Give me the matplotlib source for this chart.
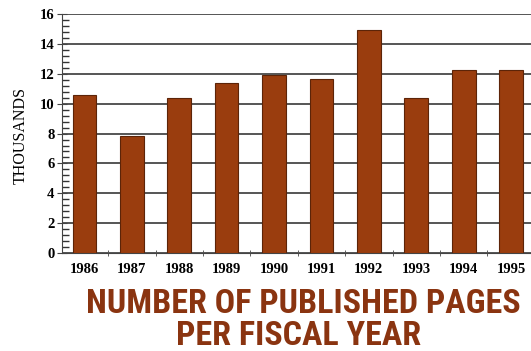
import numpy as np
import matplotlib.pyplot as plt
from matplotlib.ticker import MultipleLocator

# dati: pagine pubblicate per anno fiscale (migliaia)
years = ["1986", "1987", "1988", "1989", "1990", "1991", "1992", "1993", "1994", "1995"]
pages = [10.6, 7.85, 10.4, 11.4, 11.95, 11.65, 14.95, 10.4, 12.25, 12.25]

brown = "#9a3d0e"
title_font = ["Roboto Condensed", "Anton", "DejaVu Sans"]

fig = plt.figure(figsize=(5.31, 3.51), dpi=100)
ax = fig.add_axes([0.117, 0.279, 0.883, 0.681])

x = np.arange(len(years))
ax.bar(x, pages, width=0.5, color=brown, edgecolor="#5c2408", linewidth=0.8, zorder=3)

# griglia orizzontale
ax.set_ylim(0, 16)
ax.set_xlim(-0.47, 9.42)
ax.minorticks_on()
ax.yaxis.set_major_locator(MultipleLocator(2))
ax.yaxis.set_minor_locator(MultipleLocator(0.4))
ax.grid(axis="y", which="major", color="#555555", linewidth=1.4, zorder=1)

for s in ("top", "right"):
    ax.spines[s].set_visible(False)
ax.spines["left"].set_color("#444444")
ax.spines["bottom"].set_color("#444444")

ax.set_xticks(x)
ax.set_xticklabels(years, fontfamily="Liberation Serif", fontweight="bold", fontsize=10.5)
ax.set_xticks(x[:-1] + 0.5, minor=True)
ax.tick_params(axis="x", which="major", length=0, pad=7)
ax.tick_params(axis="x", which="minor", length=4, direction="inout", color="#444444")
ax.tick_params(axis="y", which="major", length=7, direction="inout", color="#444444", pad=2)
ax.tick_params(axis="y", which="minor", left=True, length=5, width=1, direction="in", color="#333333")
for lab in ax.get_yticklabels():
    lab.set_fontfamily("Liberation Serif")
    lab.set_fontweight("bold")
    lab.set_fontsize(10.5)

fig.text(0.039, 0.615, "THOUSANDS", rotation=90, ha="center", va="center",
         fontfamily="Liberation Serif", fontsize=11.5)

# titolo sotto il grafico
fig.text(0.5716, 0.108, "NUMBER OF PUBLISHED PAGES", ha="center", va="baseline",
         fontfamily=title_font, fontweight="bold", fontsize=24.5, color="#8a3410")
fig.text(0.562, 0.017, "PER FISCAL YEAR", ha="center", va="baseline",
         fontfamily=title_font, fontweight="bold", fontsize=24.5, color="#8a3410")

fig.savefig("out.png", dpi=100)
